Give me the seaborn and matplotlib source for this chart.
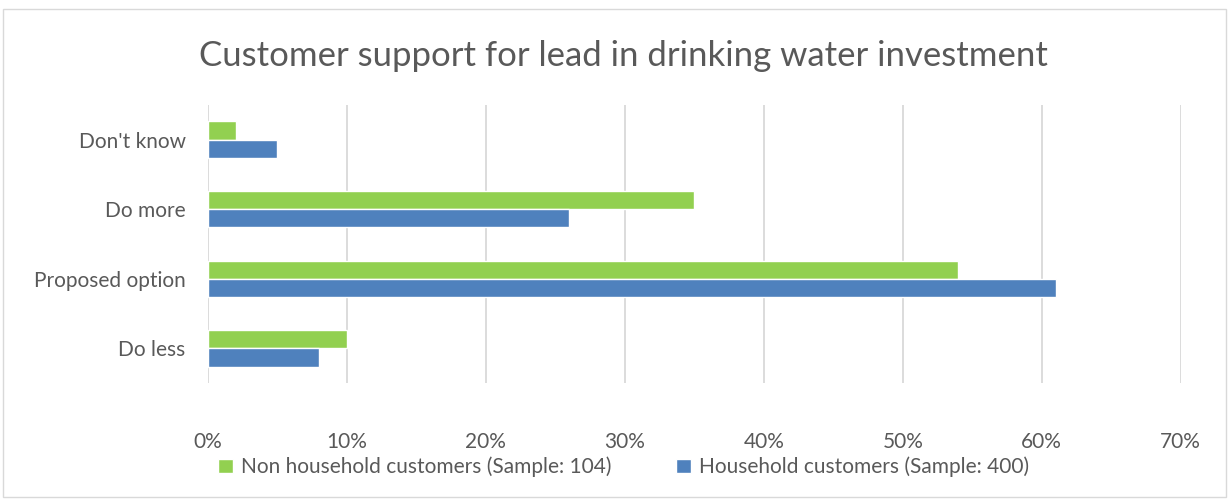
import matplotlib
matplotlib.use("Agg")
import matplotlib.pyplot as plt
from matplotlib.patches import Rectangle
import seaborn as sns
import pandas as pd

categories = ["Don't know", "Do more", "Proposed option", "Do less"]
non_household = [2, 35, 54, 10]
household = [5, 26, 61, 8]
series_names = ["Non household customers (Sample: 104)", "Household customers (Sample: 400)"]
x_ticks = [0, 10, 20, 30, 40, 50, 60, 70]

df = pd.DataFrame({
    "category": categories * 2,
    "value": non_household + household,
    "series": [series_names[0]] * len(categories) + [series_names[1]] * len(categories),
})

sns.set_theme(style="white")
plt.rcParams["font.family"] = ["Lato", "DejaVu Sans"]
text_color = "#595959"

fig = plt.figure(figsize=(12.3, 4.99), dpi=100)
ax = fig.add_axes([0.169, 0.232, 0.791, 0.558])

sns.barplot(
    data=df, y="category", x="value", hue="series", orient="h",
    order=categories, hue_order=series_names,
    palette=["#92D050", "#4F81BD"], width=0.52, saturation=1,
    errorbar=None, ax=ax, legend=True,
)

ax.set_xlim(0, 70)
ax.set_ylim(3.5, -0.5)
ax.set_xticks(x_ticks)
ax.set_xticklabels([f"{t}%" for t in x_ticks])
ax.set_xlabel("")
ax.set_ylabel("")
ax.grid(axis="x", color="#D9D9D9", linewidth=1.3)
ax.grid(axis="y", visible=False)
ax.set_axisbelow(True)
for s in ax.spines.values():
    s.set_visible(False)
ax.tick_params(axis="both", length=0, labelsize=15, colors=text_color)
ax.tick_params(axis="x", pad=35)
ax.tick_params(axis="y", pad=16)

handles, labels = ax.get_legend_handles_labels()
ax.get_legend().remove()
fig.legend(
    handles, labels, loc="center", bbox_to_anchor=(0.507, 0.064), ncol=2,
    frameon=False, fontsize=15, labelcolor=text_color,
    handlelength=0.7, handleheight=0.7, handletextpad=0.4, columnspacing=3.1,
)

fig.suptitle("Customer support for lead in drinking water investment",
             x=0.507, y=0.888, va="center", fontsize=25, color=text_color)

fig.patches.append(Rectangle((3 / 1230, 2 / 499), 1223 / 1230, 488 / 499,
                             transform=fig.transFigure, fill=False,
                             edgecolor="#D9D9D9", linewidth=1))

fig.savefig("out.png", dpi=100, facecolor="white")
